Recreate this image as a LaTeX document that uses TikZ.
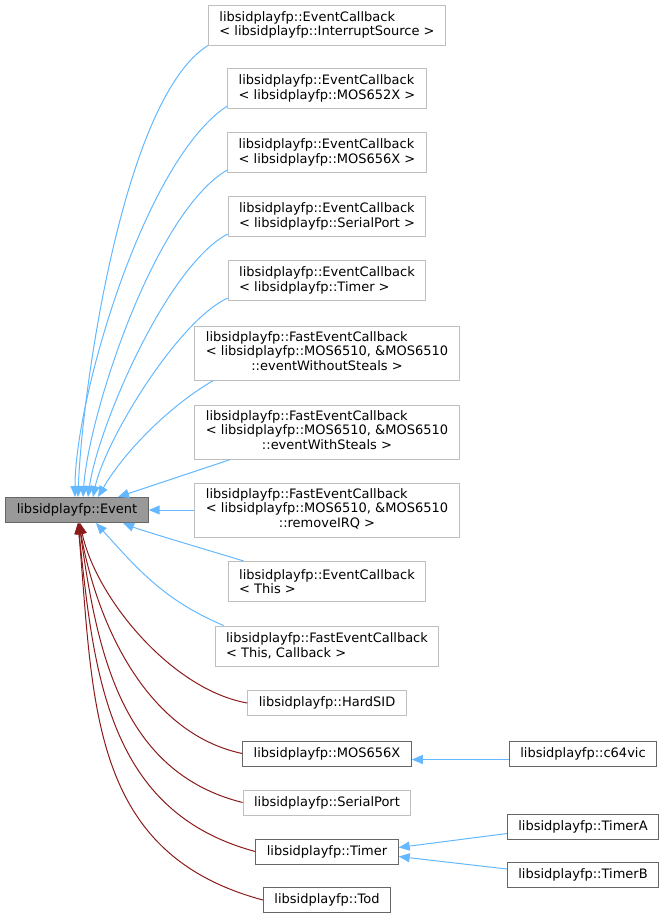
\documentclass[tikz,border=0pt]{standalone}
\usepackage{fontspec}
\setmainfont{DejaVu Sans}
\usetikzlibrary{arrows.meta}
\definecolor{inhblue}{HTML}{63B8FF}
\definecolor{usered}{HTML}{8B1A1A}
\definecolor{undoc}{HTML}{BFBFBF}
\definecolor{docgrey}{HTML}{666666}
\definecolor{basefill}{HTML}{999999}
\tikzset{
  cls/.style={draw=docgrey,line width=1pt,rectangle,inner xsep=11pt,inner ysep=0pt,
    minimum height=25pt,font=\fontsize{13}{14.5}\selectfont,align=left},
  ucls/.style={cls,draw=undoc},
  two/.style={minimum height=40pt},
  three/.style={minimum height=54pt},
  inh/.style={draw=inhblue,line width=1pt,-{Triangle[length=11pt,width=9pt]}},
  use/.style={draw=usered,line width=1pt,-{Triangle[length=11pt,width=9pt]}}
}
\newcommand{\fastcb}[1]{\begin{tabular}{@{}l@{}}libsidplayfp::FastEventCallback\\
  {<} libsidplayfp::MOS6510, \&MOS6510\\\multicolumn{1}{@{}c@{}}{::#1 {>}}\end{tabular}}
\begin{document}
\begin{tikzpicture}[x=1pt,y=1pt]
  \useasboundingbox (0,0) rectangle (665,-919);
  \begin{scope}[every node/.style={ucls}]
    \node[cls,fill=basefill] (event) at (77,-510) {libsidplayfp::Event};
    \node[two] (cbirq)  at (327,-25)  {libsidplayfp::EventCallback\\{<} libsidplayfp::InterruptSource {>}};
    \node[two] (cbcpu)  at (327,-88.5){libsidplayfp::EventCallback\\{<} libsidplayfp::MOS652X {>}};
    \node[two] (cbvic)  at (327,-152.5){libsidplayfp::EventCallback\\{<} libsidplayfp::MOS656X {>}};
    \node[two] (cbser)  at (327,-216.5){libsidplayfp::EventCallback\\{<} libsidplayfp::SerialPort {>}};
    \node[two] (cbtim)  at (327,-280.5){libsidplayfp::EventCallback\\{<} libsidplayfp::Timer {>}};
    \node[three] (fcnos) at (327,-353) {\fastcb{eventWithoutSteals}};
    \node[three] (fcst)  at (327,-432) {\fastcb{eventWithSteals}};
    \node[three] (fcirq) at (327,-510) {\fastcb{removeIRQ}};
    \node[two] (cbthis) at (327,-581.5){libsidplayfp::EventCallback\\{<} This {>}};
    \node[two] (fcthis) at (327,-646)  {libsidplayfp::FastEventCallback\\{<} This, Callback {>}};
    \node (hardsid) at (327,-703)   {libsidplayfp::HardSID};
    \node[cls] (vic)   at (327,-753.5) {libsidplayfp::MOS656X};
    \node (serial)  at (327,-802.5) {libsidplayfp::SerialPort};
    \node[cls] (timer) at (327,-851.5) {libsidplayfp::Timer};
    \node[cls] (tod)   at (327,-900)   {libsidplayfp::Tod};
    \node[cls] (c64vic) at (583,-753.5) {libsidplayfp::c64vic};
    \node[cls] (timera) at (583,-826.5) {libsidplayfp::TimerA};
    \node[cls] (timerb) at (583,-875)   {libsidplayfp::TimerB};
  \end{scope}
  \begin{scope}[every edge/.style={inh}]
    \path (cbirq.south west) edge[out=212,in=88,looseness=0.55] ([xshift=1pt]event.north);
    \path (cbcpu.190) edge[out=213,in=90,looseness=0.6] ([xshift=-2pt]event.north);
    \path (cbvic.190) edge[out=210,in=86,looseness=0.6] ([xshift=6pt]event.north);
    \path (cbser.190) edge[out=208,in=82,looseness=0.6] ([xshift=11pt]event.north);
    \path (cbtim.190) edge[out=205,in=78,looseness=0.6] ([xshift=16pt]event.north);
    \path ([xshift=19pt]fcnos.south west) edge[out=210,in=60,looseness=0.8] ([xshift=21pt]event.north);
    \path ([xshift=36pt]fcst.south west) edge ([xshift=41pt]event.north);
    \path (fcirq.west) edge (event.east);
    \path ([xshift=16pt]cbthis.north west) edge[out=163,in=-22,looseness=0.4] ([xshift=46pt]event.south);
    \path ([xshift=9pt]fcthis.north west) edge[out=157,in=-48] ([xshift=19pt]event.south);
    \path ([yshift=-6pt]c64vic.west) edge ([yshift=-6pt]c64vic.west -| vic.east);
    \path ([yshift=-7pt]timera.west) edge ([yshift=4pt]timer.east);
    \path ([yshift=6pt]timerb.west) edge ([yshift=-5pt]timer.east);
  \end{scope}
  \begin{scope}[every edge/.style={use}]
    \path (hardsid.west) edge[out=170,in=-78,looseness=0.8] ([xshift=3pt]event.south);
    \path (vic.west)     edge[out=168,in=-80,looseness=0.9] ([xshift=2pt]event.south);
    \path (serial.west)  edge[out=166,in=-82,looseness=1] ([xshift=2pt]event.south);
    \path (timer.west)   edge[out=165,in=-84,looseness=1.05] ([xshift=1pt]event.south);
    \path (tod.west)     edge[out=165,in=-85,looseness=1.1] ([xshift=1pt]event.south);
  \end{scope}
\end{tikzpicture}
\end{document}
